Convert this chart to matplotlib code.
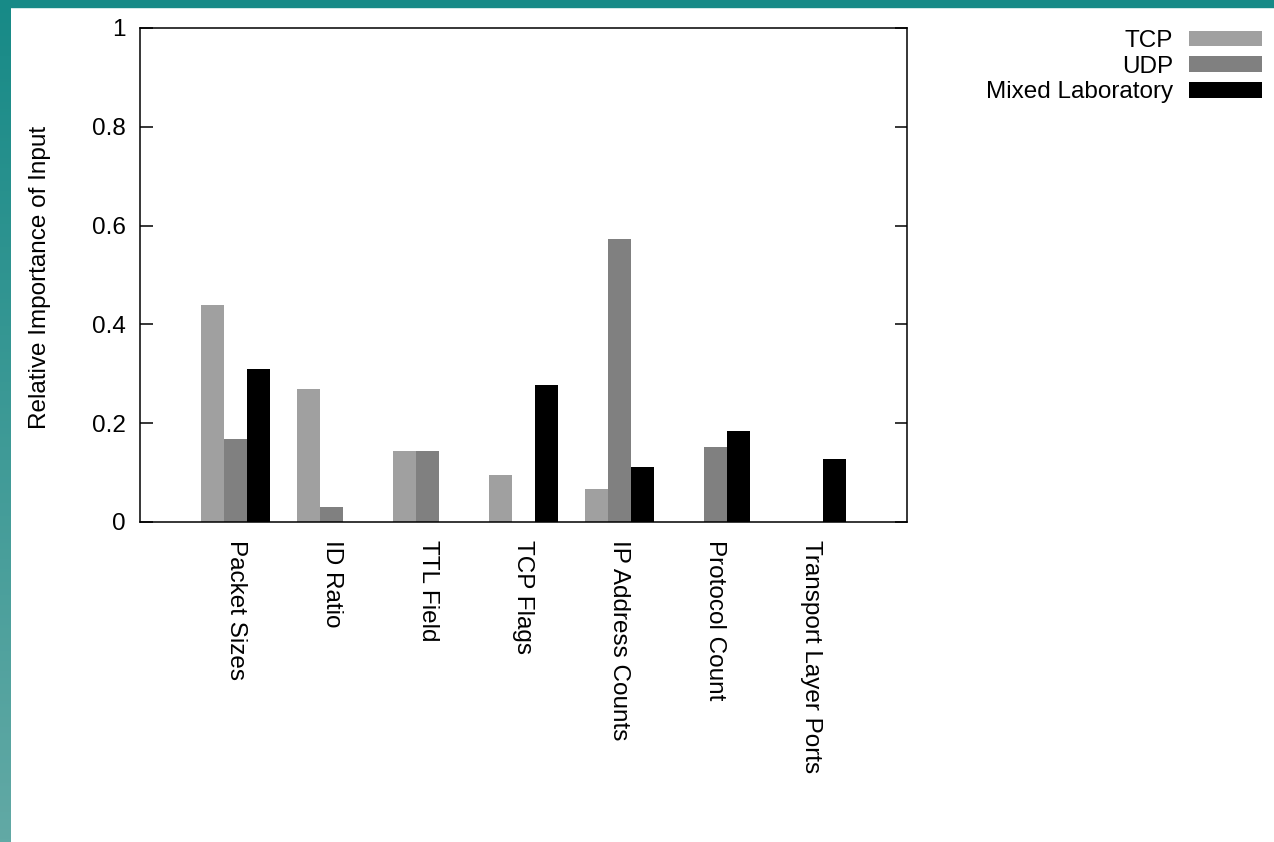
import numpy as np
import matplotlib
matplotlib.use('Agg')
import matplotlib.pyplot as plt
import matplotlib.patches as patches
from matplotlib.colors import LinearSegmentedColormap

plt.rcParams['font.family'] = ['Liberation Sans', 'DejaVu Sans']
plt.rcParams['font.size'] = 17.5

# --- data ---
features = ['Packet Sizes', 'ID Ratio', 'TTL Field', 'TCP Flags',
            'IP Address Counts', 'Protocol Count', 'Transport Layer Ports']
tcp = [0.44, 0.27, 0.144, 0.095, 0.067, 0.0, 0.0]
udp = [0.168, 0.03, 0.144, 0.0, 0.573, 0.152, 0.0]
mixed = [0.31, 0.0, 0.0, 0.278, 0.111, 0.184, 0.128]
series_names = ['TCP', 'UDP', 'Mixed Laboratory']
series_colors = ['#a0a0a0', '#808080', '#000000']
yticks = [0, 0.2, 0.4, 0.6, 0.8, 1]
ytick_labels = ['0', '0.2', '0.4', '0.6', '0.8', '1']

W, H = 1274, 842
fig = plt.figure(figsize=(W / 100, H / 100), dpi=100)

# teal slide frame: gradient strip on the left, flat band on top
strip = fig.add_axes([0, 0, 11 / W, 1])
cmap = LinearSegmentedColormap.from_list('frame', ['#178a87', '#62a9a5'])
strip.imshow(np.linspace(0, 1, 256).reshape(-1, 1), aspect='auto', cmap=cmap,
             extent=[0, 1, 0, 1], origin='upper')
strip.axis('off')
fig.patches.append(patches.Rectangle((0, 1 - 7 / H), 1, 7 / H, transform=fig.transFigure,
                                     color='#178a87', zorder=10))

ax = fig.add_axes([140 / W, 1 - 522 / H, 767 / W, 494 / H])
x = np.arange(len(features))
w = 0.24
for i, (vals, name, col) in enumerate(zip([tcp, udp, mixed], series_names, series_colors)):
    ax.bar(x + (i - 1) * w, vals, width=w, color=col, linewidth=0, label=name)

ax.set_xlim(-1, 7)
ax.set_ylim(0, 1)
ax.set_yticks(yticks)
ax.set_yticklabels(ytick_labels)
ax.set_xticks(x)
ax.set_xticklabels(features, rotation=-90)
ax.tick_params(axis='y', direction='in', length=9, width=1.1, pad=10, right=True)
ax.tick_params(axis='x', length=0, pad=13)
for s in ax.spines.values():
    s.set_linewidth(1.1)

fig.text(40 / W, 1 - 277 / H, 'Relative Importance of Input', rotation=90,
         ha='center', va='center')

handles, labels = ax.get_legend_handles_labels()
fig.legend(handles, labels, loc='upper right', bbox_to_anchor=(1262 / W, 1 - 30 / H),
           frameon=False, markerfirst=False, borderpad=0, borderaxespad=0,
           handlelength=3.0, handleheight=0.62, handletextpad=0.65, labelspacing=0.15)

fig.savefig('out.png', dpi=100)
